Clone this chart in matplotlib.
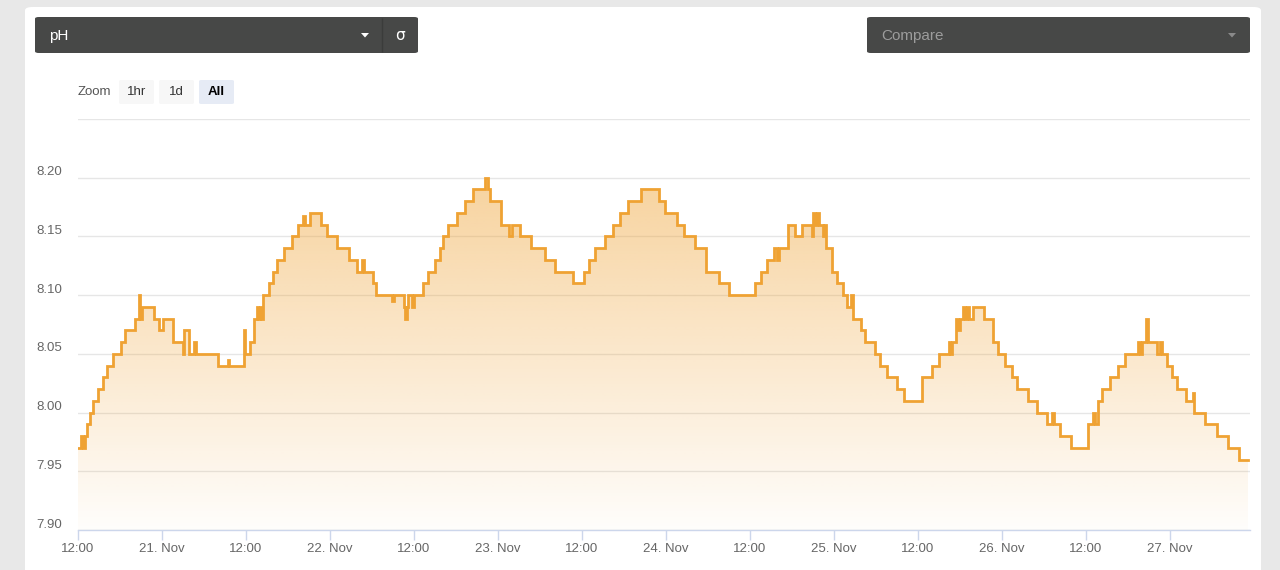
import numpy as np
import matplotlib
matplotlib.use("Agg")
import matplotlib.pyplot as plt
from matplotlib.patches import FancyBboxPatch, Polygon
from matplotlib.lines import Line2D
import matplotlib.transforms as mtransforms

plt.rcParams['font.family'] = ['Liberation Sans', 'DejaVu Sans']

# ---------------- data (hours since 20 Nov 12:00, pH value; step changes) ----------------
hours = [0, 0.38, 0.67, 1.0, 1.3, 1.71, 2.19, 2.9, 3.62, 4.19, 5.05, 6.1, 6.71, 8.14, 8.67, 8.86, 9.1,
         10.86, 11.62, 12.19, 13.62, 15.0, 15.14, 15.9, 16.62, 16.86, 20.05, 21.4, 21.6, 23.67, 23.86,
         24.57, 25.14, 25.5, 25.7, 26.0, 26.2, 26.38, 27.33, 27.9, 28.48, 29.43, 30.52, 31.48, 32.19,
         32.43, 33.14, 34.67, 35.62, 36.95, 38.76, 39.81, 40.62, 40.86, 42.19, 42.6, 44.8, 45.14, 46.5,
         46.71, 46.95, 47.19, 47.7, 48.0, 49.33, 50.05, 51.0, 51.71, 52.1, 52.9, 54.1, 55.29, 56.48,
         58.14, 58.62, 58.86, 60.38, 61.62, 61.95, 63.14, 64.67, 66.71, 68.14, 70.76, 72.29, 73.05,
         73.86, 75.29, 76.38, 77.43, 78.62, 80.38, 83.05, 83.86, 85.52, 86.57, 88.14, 89.71, 91.62,
         93.05, 96.71, 97.52, 98.48, 99.43, 99.81, 100.1, 101.48, 102.43, 103.38, 104.8, 105.05,
         105.33, 105.62, 105.9, 106.38, 106.57, 106.86, 107.67, 108.48, 109.33, 109.81, 110.4, 110.76,
         111.8, 112.43, 113.8, 114.5, 115.52, 116.95, 118.05, 120.52, 121.95, 123.0, 124.38, 124.57,
         124.9, 125.43, 125.76, 126.0, 126.48, 126.71, 127.05, 127.33, 127.9, 129.43, 130.67, 131.48,
         132.43, 133.38, 134.1, 135.76, 136.95, 138.38, 139.19, 139.48, 140.29, 141.81, 144.33, 145.05,
         145.29, 145.76, 146.24, 147.43, 148.62, 149.57, 151.48, 151.71, 151.95, 152.52, 152.9, 154.1,
         154.57, 154.81, 155.52, 156.24, 156.95, 158.29, 159.33, 159.48, 161.0, 162.67, 164.33, 165.9,
         167.19]
ph = [7.97, 7.98, 7.97, 7.98, 7.99, 8.00, 8.01, 8.02, 8.03, 8.04, 8.05, 8.06, 8.07, 8.08, 8.10, 8.08, 8.09,
      8.08, 8.07, 8.08, 8.06, 8.05, 8.07, 8.05, 8.06, 8.05, 8.04, 8.045, 8.04, 8.07, 8.05,
      8.06, 8.08, 8.09, 8.08, 8.09, 8.08, 8.10, 8.11, 8.12, 8.13, 8.14, 8.15, 8.16, 8.167,
      8.16, 8.17, 8.16, 8.15, 8.14, 8.13, 8.12, 8.13, 8.12, 8.11, 8.10, 8.095, 8.10, 8.09,
      8.08, 8.09, 8.10, 8.09, 8.10, 8.11, 8.12, 8.13, 8.14, 8.15, 8.16, 8.17, 8.18, 8.19,
      8.20, 8.19, 8.18, 8.16, 8.15, 8.16, 8.15, 8.14, 8.13, 8.12, 8.11, 8.12, 8.13,
      8.14, 8.15, 8.16, 8.17, 8.18, 8.19, 8.18, 8.17, 8.16, 8.15, 8.14, 8.12, 8.11,
      8.10, 8.11, 8.12, 8.13, 8.14, 8.13, 8.14, 8.16, 8.15, 8.16, 8.15, 8.17,
      8.16, 8.17, 8.16, 8.15, 8.16, 8.14, 8.12, 8.11, 8.10, 8.09, 8.10, 8.08,
      8.07, 8.06, 8.05, 8.04, 8.03, 8.02, 8.01, 8.03, 8.04, 8.05, 8.06, 8.05,
      8.06, 8.08, 8.07, 8.08, 8.09, 8.08, 8.09, 8.08, 8.09, 8.08, 8.06, 8.05,
      8.04, 8.03, 8.02, 8.01, 8.00, 7.99, 8.00, 7.99, 7.98, 7.97, 7.99, 8.00,
      7.99, 8.01, 8.02, 8.03, 8.04, 8.05, 8.06, 8.05, 8.06, 8.08, 8.06, 8.05,
      8.06, 8.05, 8.04, 8.03, 8.02, 8.01, 8.017, 8.00, 7.99, 7.98, 7.97, 7.96,
      7.96]

x_ticks = [0, 12, 24, 36, 48, 60, 72, 84, 96, 108, 120, 132, 144, 156]
x_labels = ["12:00", "21. Nov", "12:00", "22. Nov", "12:00", "23. Nov", "12:00", "24. Nov",
            "12:00", "25. Nov", "12:00", "26. Nov", "12:00", "27. Nov"]
y_ticks = [7.90, 7.95, 8.00, 8.05, 8.10, 8.15, 8.20, 8.25]
y_labels = ["7.90", "7.95", "8.00", "8.05", "8.10", "8.15", "8.20", ""]
zoom_buttons = ["1hr", "1d", "All"]

W, H = 1280, 570
LINE = '#efa233'

fig = plt.figure(figsize=(W / 100, H / 100), dpi=100)
fig.patch.set_facecolor('#e8e8e8')


def fx(x):
    return x / W


def fy(y):
    return 1 - y / H


# card
card = FancyBboxPatch((fx(25), fy(600)), fx(1261) - fx(25), fy(7) - fy(600),
                      boxstyle="round,pad=0,rounding_size=0.006", transform=fig.transFigure,
                      facecolor='white', edgecolor='none', zorder=-10)
fig.patches.append(card)


def dropdown(x0, x1, y0, y1):
    p = FancyBboxPatch((fx(x0), fy(y1)), fx(x1) - fx(x0), fy(y0) - fy(y1),
                       boxstyle="round,pad=0,rounding_size=0.003", transform=fig.transFigure,
                       facecolor='#474847', edgecolor='none', zorder=-5)
    fig.patches.append(p)

dropdown(35, 418, 17, 53)
dropdown(867, 1250, 17, 53)
fig.lines.append(Line2D([fx(382), fx(382)], [fy(18), fy(52)], transform=fig.transFigure,
                        color='#3b3c3b', lw=1, zorder=-4, solid_capstyle='butt'))
fig.text(fx(49), fy(36), "pH", color='white', fontsize=11, va='center', ha='left')
fig.text(fx(400), fy(36), "σ", color='white', fontsize=11, va='center', ha='center',
         family=['DejaVu Sans'])
fig.text(fx(881), fy(36), "Compare", color='#9c9c9c', fontsize=11, va='center', ha='left')


def caret(cx, cy, color):
    tri = Polygon([[fx(cx - 4), fy(cy - 2)], [fx(cx + 4), fy(cy - 2)], [fx(cx), fy(cy + 2.5)]],
                  closed=True, transform=fig.transFigure, facecolor=color, edgecolor='none', zorder=-3)
    fig.patches.append(tri)

caret(365, 35, 'white')
caret(1232, 35, '#8a8a8a')

# zoom buttons
fig.text(fx(78), fy(92), "Zoom", color='#555555', fontsize=9.5, va='center', ha='left')
btn_x = [(119, 154), (159, 194), (199, 234)]
for (bx0, bx1), lab in zip(btn_x, zoom_buttons):
    sel = lab == "All"
    r = FancyBboxPatch((fx(bx0), fy(104)), fx(bx1) - fx(bx0), fy(80) - fy(104),
                       boxstyle="round,pad=0,rounding_size=0.002", transform=fig.transFigure,
                       facecolor='#e6ebf5' if sel else '#f7f7f7', edgecolor='none', zorder=-5)
    fig.patches.append(r)
    fig.text(fx((bx0 + bx1) / 2), fy(92), lab, color='black' if sel else '#333333',
             fontsize=9.5, va='center', ha='center', fontweight='bold' if sel else 'normal')

# axes
ax = fig.add_axes([fx(78), fy(530), fx(1250) - fx(78), fy(119) - fy(530)], zorder=5)
ax.set_facecolor('none')
xmax = (1250 - 78) / 7
ax.set_xlim(0, xmax)
ax.set_ylim(7.90, 8.25)

hx = np.array(hours)
pv = np.array(ph)

# gradient fill clipped to the area under the step line
poly = ax.fill_between(hx, pv, 7.90, step='post', facecolor='none', edgecolor='none')
grad = np.zeros((256, 2, 4))
rgb = matplotlib.colors.to_rgb(LINE)
grad[..., 0] = rgb[0]
grad[..., 1] = rgb[1]
grad[..., 2] = rgb[2]
grad[..., 3] = np.linspace(0.55, 0.02, 256)[:, None]
im = ax.imshow(grad, extent=[0, xmax, 7.90, 8.25], origin='upper', aspect='auto', zorder=1,
               interpolation='bilinear')
im.set_clip_path(poly.get_paths()[0], transform=ax.transData)

ax.step(hx, pv, where='post', color=LINE, lw=2, zorder=3, solid_joinstyle='miter')

ax.set_yticks(y_ticks)
ax.set_yticklabels(y_labels)
ax.set_xticks(x_ticks)
ax.set_xticklabels(x_labels)
ax.grid(axis='y', color='#e6e6e6', lw=1, zorder=0)
ax.set_axisbelow(True)
for s in ['top', 'right', 'left']:
    ax.spines[s].set_visible(False)
ax.spines['bottom'].set_color('#ccd6eb')
ax.spines['bottom'].set_linewidth(1)
ax.spines['bottom'].set_zorder(4)
ax.tick_params(axis='y', length=0, pad=11.5, labelsize=9.5, labelcolor='#666666')
ax.tick_params(axis='x', length=7.5, width=1, color='#ccd6eb', pad=2, labelsize=9.5,
               labelcolor='#666666')
offset = mtransforms.ScaledTranslation(0, 7 / 100, fig.dpi_scale_trans)
for lab in ax.get_yticklabels():
    lab.set_transform(lab.get_transform() + offset)

fig.savefig("out.png", dpi=100, facecolor=fig.get_facecolor())
